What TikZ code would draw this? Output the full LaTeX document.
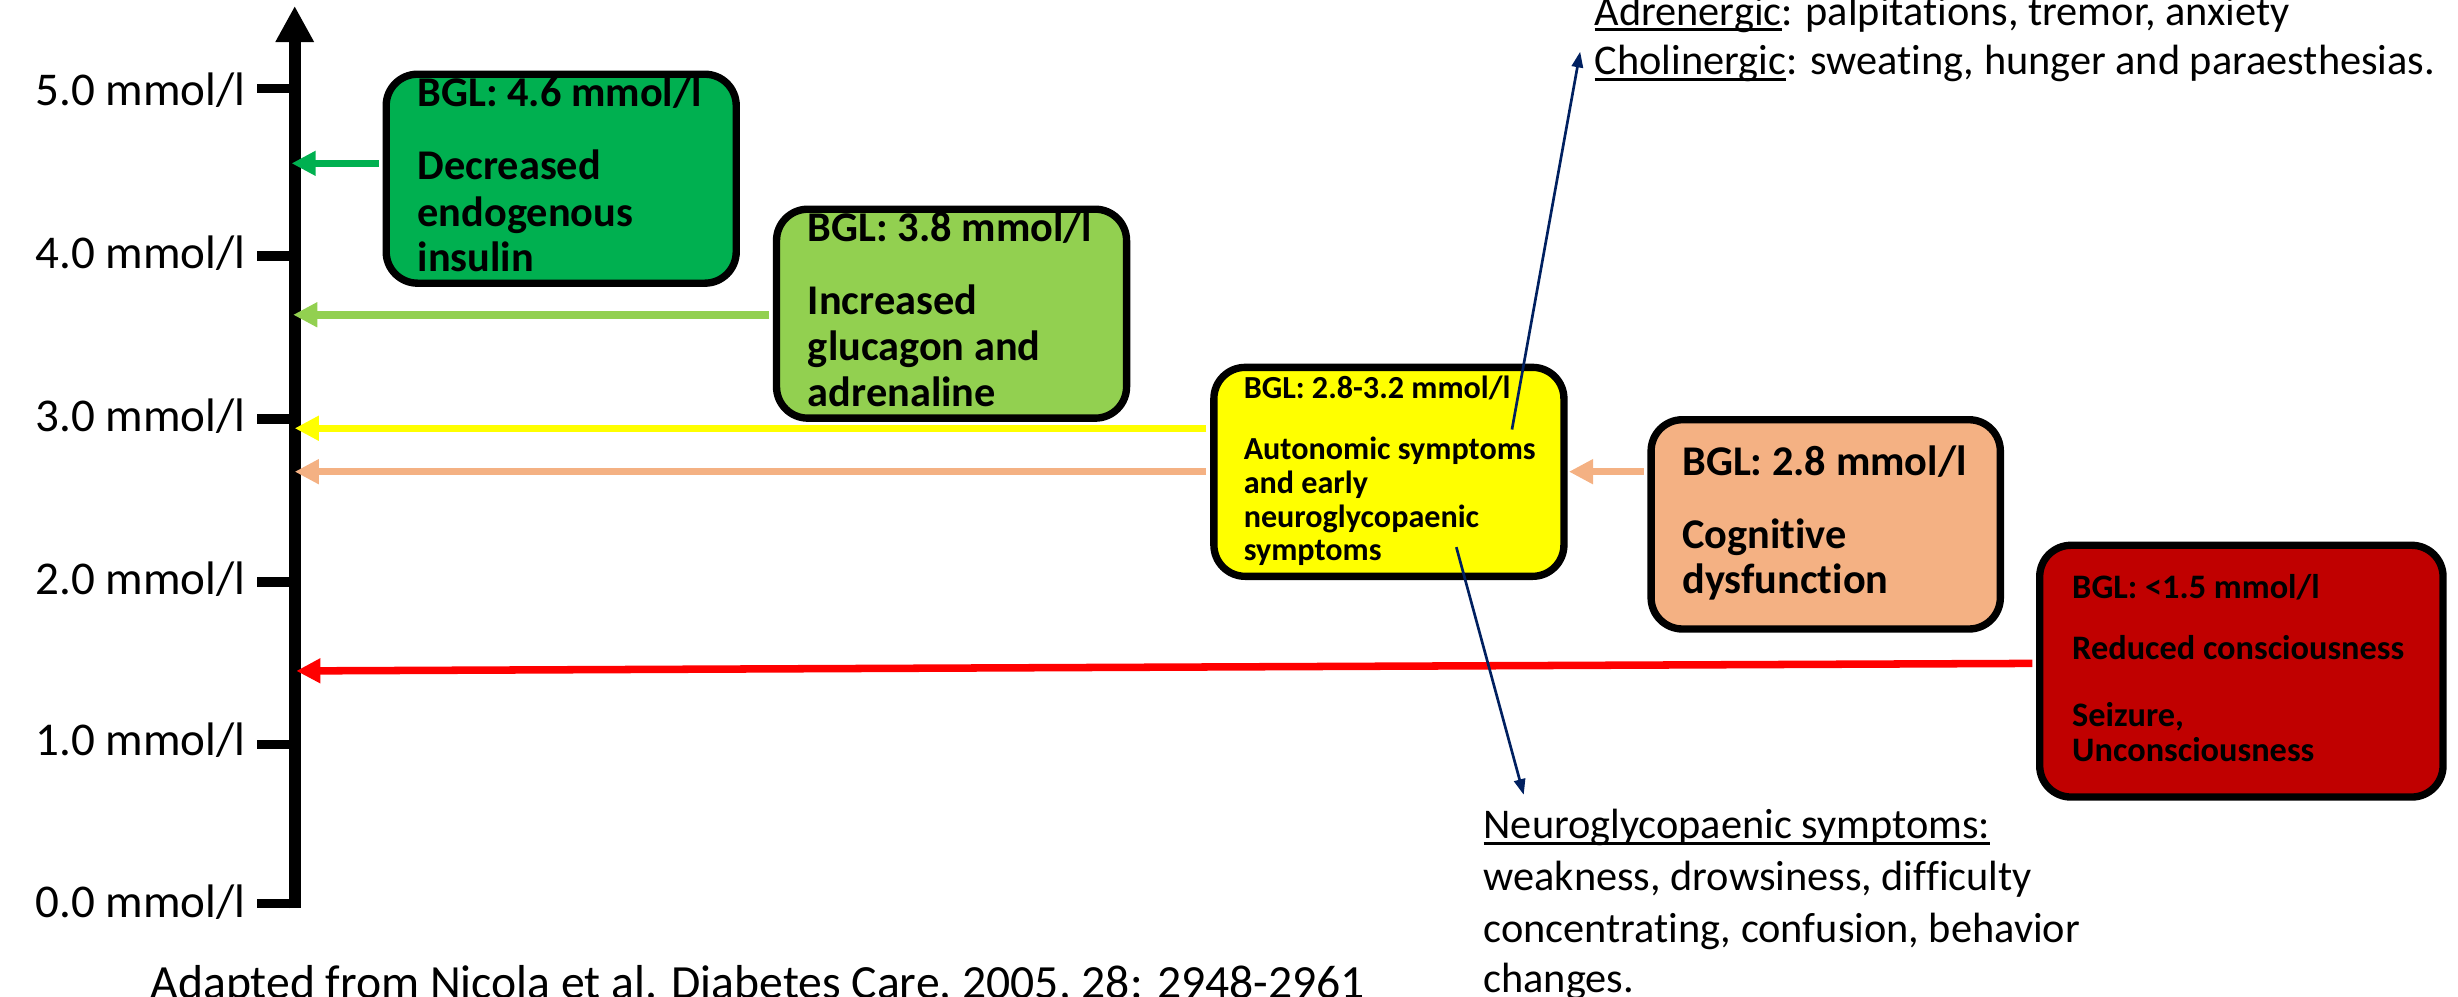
\documentclass[tikz,border=0pt]{standalone}
\usepackage{fontspec}
\setmainfont{Carlito}[Ligatures=NoCommon]
\usetikzlibrary{arrows.meta}
\definecolor{cgreen}{HTML}{00B050}
\definecolor{clgreen}{HTML}{92D050}
\definecolor{cyellow}{HTML}{FFFF00}
\definecolor{cpeach}{HTML}{F4B183}
\definecolor{cdred}{HTML}{C00000}
\definecolor{cred}{HTML}{FF0000}
\definecolor{cnavy}{HTML}{002060}
\newcommand\myul[1]{\setbox0\hbox{#1}\rlap{\rule[-2pt]{\wd0}{1pt}}\box0}
\begin{document}
\begin{tikzpicture}[x=0.5pt,y=-0.5pt,
  txt/.style={anchor=base west, inner sep=0pt},
  axlab/.style={anchor=base east, inner sep=0pt, font=\fontsize{15pt}{18pt}\selectfont},
  big/.style={txt, font=\fontsize{13.5pt}{16pt}\selectfont\bfseries},
  ysm/.style={txt, font=\fontsize{10.25pt}{12pt}\selectfont\bfseries},
  rsm/.style={txt, font=\fontsize{10.95pt}{13pt}\selectfont\bfseries},
  note/.style={txt, font=\fontsize{13.5pt}{16pt}\selectfont},
  cite/.style={txt, font=\fontsize{15.2pt}{18pt}\selectfont},
  box/.style={draw=black, line width=2.35pt, rounded corners=10pt, minimum width=111.65pt, minimum height=66.65pt, inner sep=0pt},
  lvl/.style={line width=2.4pt, -{Triangle[length=7.7pt,width=7.5pt]}},
  pointer/.style={cnavy, line width=0.85pt, -{Triangle[length=5pt,width=3.6pt]}},
  ticksty/.style={line width=3pt},
]
\useasboundingbox (0,0) rectangle (1568,636);

% axis
\coordinate (axbot) at (188,579.5);
\coordinate (axtop) at (188,3.8);
\draw[line width=3.9pt, -{Triangle[length=11.5pt,width=11.5pt]}] (axbot) -- (axtop);
\foreach \yy in {56.4,163.3,267.3,371.3,474.8,576.5}{
  \draw[ticksty] (164,\yy) -- (188,\yy);
}
\node[axlab] (l5) at (157,67) {5.0 mmol/l};
\node[axlab] (l4) at (157,171) {4.0 mmol/l};
\node[axlab] (l3) at (157,275.5) {3.0 mmol/l};
\node[axlab] (l2) at (157,379.5) {2.0 mmol/l};
\node[axlab] (l1) at (157,481.8) {1.0 mmol/l};
\node[axlab] (l0) at (157,585.4) {0.0 mmol/l};

% boxes
\node[box, fill=cgreen] (gbox) at (358,114) {};
\node[box, fill=clgreen] (lgbox) at (607,200.1) {};
\node[box, fill=cyellow] (ybox) at (886,301) {};
\node[box, fill=cpeach, minimum width=111.4pt, minimum height=66.75pt] (pbox) at (1164.65,334.5) {};
\node[box, fill=cdred, minimum width=128.65pt, minimum height=80.3pt] (rbox) at (1429.8,428.15) {};

% level arrows
\coordinate (aG) at (186,104.2);
\coordinate (sG) at ([xshift=-1.2pt]gbox.west);
\draw[lvl, cgreen] (sG |- aG) -- (aG);
\coordinate (aLG) at (187,200.8);
\coordinate (sLG) at ([xshift=-1.2pt]lgbox.west);
\draw[lvl, clgreen] (sLG |- aLG) -- (aLG);
\coordinate (aY) at (188,273.2);
\coordinate (sY) at ([xshift=-1.2pt]ybox.west);
\draw[lvl, cyellow] (sY |- aY) -- (aY);
\coordinate (aP) at (188,300.9);
\draw[lvl, cpeach] (sY |- aP) -- (aP);
\coordinate (sP) at ([xshift=-1.2pt]pbox.west);
\coordinate (tP) at ([xshift=0.4pt]ybox.east);
\draw[lvl, cpeach] (sP |- aP) -- (tP |- aP);
\coordinate (aR) at (189,428);
\coordinate (sR) at ([xshift=-1.2pt]rbox.west);
\coordinate (bR) at (0,423.2);
\draw[lvl, cred] (sR |- bR) -- (aR);

% box texts
\node[big] (g1) at (266,68) {BGL: 4.6 mmol/l};
\node[big] (g2) at (266,114.8) {Decreased};
\node[big] (g3) at (266,144.6) {endogenous};
\node[big] (g4) at (266,173.3) {insulin};

\node[big] (lg1) at (515,154) {BGL: 3.8 mmol/l};
\node[big] (lg2) at (515,200.8) {Increased};
\node[big] (lg3) at (515,230.2) {glucagon and};
\node[big] (lg4) at (515,259.6) {adrenaline};

\node[ysm] (y1) at (793,254) {BGL: 2.8-3.2 mmol/l};
\node[ysm] (y2) at (793,293) {Autonomic symptoms};
\node[ysm] (y3) at (793,314.6) {and early};
\node[ysm] (y4) at (793,336.2) {neuroglycopaenic};
\node[ysm] (y5) at (793,357.8) {symptoms};

\node[big] (p1) at (1072.8,303.6) {BGL: 2.8 mmol/l};
\node[big] (p2) at (1072.8,349.8) {Cognitive};
\node[big] (p3) at (1072.8,378.5) {dysfunction};

\node[rsm] (r1) at (1321.5,381.7) {BGL: <1.5 mmol/l};
\node[rsm] (r2) at (1321.5,421) {Reduced consciousness};
\node[rsm] (r3) at (1321.5,463.6) {Seizure,};
\node[rsm] (r4) at (1321.5,485.9) {Unconsciousness};

% notes
\node[note] (t1) at (1016.8,16) {\myul{Adrenergic}: palpitations, tremor, anxiety};
\node[note] (t2) at (1016.8,47.8) {\myul{Cholinergic}: sweating, hunger and paraesthesias.};

\node[note] (b1) at (946,535) {\myul{Neuroglycopaenic symptoms:}};
\node[note] (b2) at (946,568) {weakness, drowsiness, difficulty};
\node[note] (b3) at (946,601) {concentrating, confusion, behavior};
\node[note] (b4) at (946,633) {changes.};

\node[cite] (cit) at (95.7,637) {Adapted from Nicola et al. Diabetes Care, 2005, 28: 2948-2961};

% pointers
\coordinate (n1s) at (964.5,274);
\coordinate (n1e) at (1008,33);
\draw[pointer] (n1s) -- (n1e);
\coordinate (n2s) at (929,349);
\coordinate (n2e) at (972,507);
\draw[pointer] (n2s) -- (n2e);
\end{tikzpicture}
\end{document}
